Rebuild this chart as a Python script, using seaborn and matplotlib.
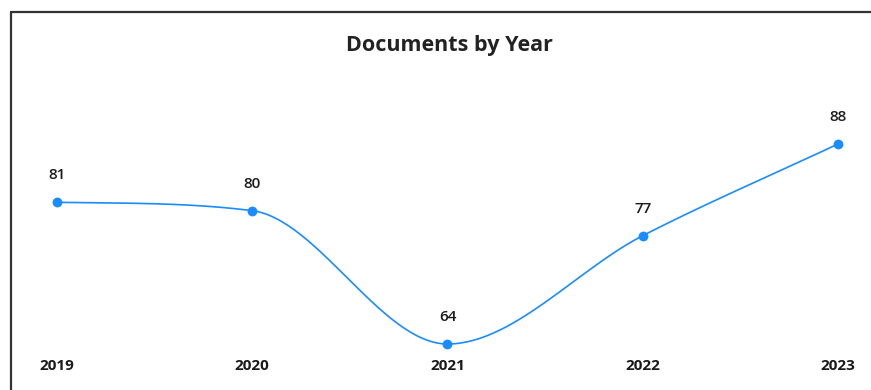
import numpy as np
import pandas as pd
import matplotlib
matplotlib.use("Agg")
import matplotlib.pyplot as plt
import matplotlib.transforms as mtransforms
import seaborn as sns

years = ["2019", "2020", "2021", "2022", "2023"]
documents = [81, 80, 64, 77, 88]

LINE_COLOR = "#1a8cff"
TEXT_COLOR = "#1a1a1a"


def monotone_curve(y, samples=60):
    """Monotone cubic (Fritsch-Carlson) curve through evenly spaced points."""
    y = np.asarray(y, dtype=float)
    n = len(y)
    d = np.diff(y)
    m = np.zeros(n)
    m[0], m[-1] = d[0], d[-1]
    for i in range(1, n - 1):
        m[i] = 0.0 if d[i - 1] * d[i] <= 0 else (d[i - 1] + d[i]) / 2
    for i in range(n - 1):
        if d[i] == 0:
            m[i] = m[i + 1] = 0.0
            continue
        a, b = m[i] / d[i], m[i + 1] / d[i]
        s = a * a + b * b
        if s > 9:
            t = 3 / np.sqrt(s)
            m[i] = t * a * d[i]
            m[i + 1] = t * b * d[i]
    xs, ys = [], []
    for i in range(n - 1):
        t = np.linspace(0, 1, samples, endpoint=(i == n - 2))
        h00 = 2 * t**3 - 3 * t**2 + 1
        h10 = t**3 - 2 * t**2 + t
        h01 = -2 * t**3 + 3 * t**2
        h11 = t**3 - t**2
        xs.append(i + t)
        ys.append(h00 * y[i] + h10 * m[i] + h01 * y[i + 1] + h11 * m[i + 1])
    return np.concatenate(xs), np.concatenate(ys)


sns.set_theme(style="white")
plt.rcParams["font.family"] = ["Open Sans", "DejaVu Sans"]

fig = plt.figure(figsize=(8.71, 3.9), dpi=100)
ax = fig.add_axes([0, 0, 1, 1])

cx, cy = monotone_curve(documents)
curve = pd.DataFrame({"x": cx, "y": cy})
pts = pd.DataFrame({"x": np.arange(len(years)), "y": documents})

sns.lineplot(data=curve, x="x", y="y", ax=ax, color=LINE_COLOR,
             linewidth=1.2, sort=False, estimator=None)
sns.scatterplot(data=pts, x="x", y="y", ax=ax, color=LINE_COLOR,
                s=50, edgecolor=LINE_COLOR, linewidth=0, zorder=3)

ax.set_xlim(-0.2919, 4.169)
ax.set_ylim(58.48, 105.28)
ax.axis("off")

for i, v in enumerate(documents):
    ax.annotate(str(v), (i, v), xytext=(0, 19.5), textcoords="offset points",
                ha="center", va="center", fontsize=11, fontweight="semibold",
                color=TEXT_COLOR)

trans = mtransforms.blended_transform_factory(ax.transData, ax.transAxes)
for i, yr in enumerate(years):
    ax.text(i, 1 - 366 / 390, yr, transform=trans, ha="center", va="center",
            fontsize=11, fontweight="bold", color=TEXT_COLOR)

fig.text(449 / 871, 1 - 45 / 390, "Documents by Year", ha="center",
         va="center", fontsize=15.5, fontweight="bold", color="#222222")

# frame around the chart area
fig.add_artist(plt.Line2D([10.5 / 871, 10.5 / 871], [0, 1 - 11.5 / 390],
                          transform=fig.transFigure, color="#333333", lw=1.6))
fig.add_artist(plt.Line2D([10.5 / 871, 1], [1 - 11.5 / 390, 1 - 11.5 / 390],
                          transform=fig.transFigure, color="#333333", lw=1.6))

fig.savefig("out.png", dpi=100)
